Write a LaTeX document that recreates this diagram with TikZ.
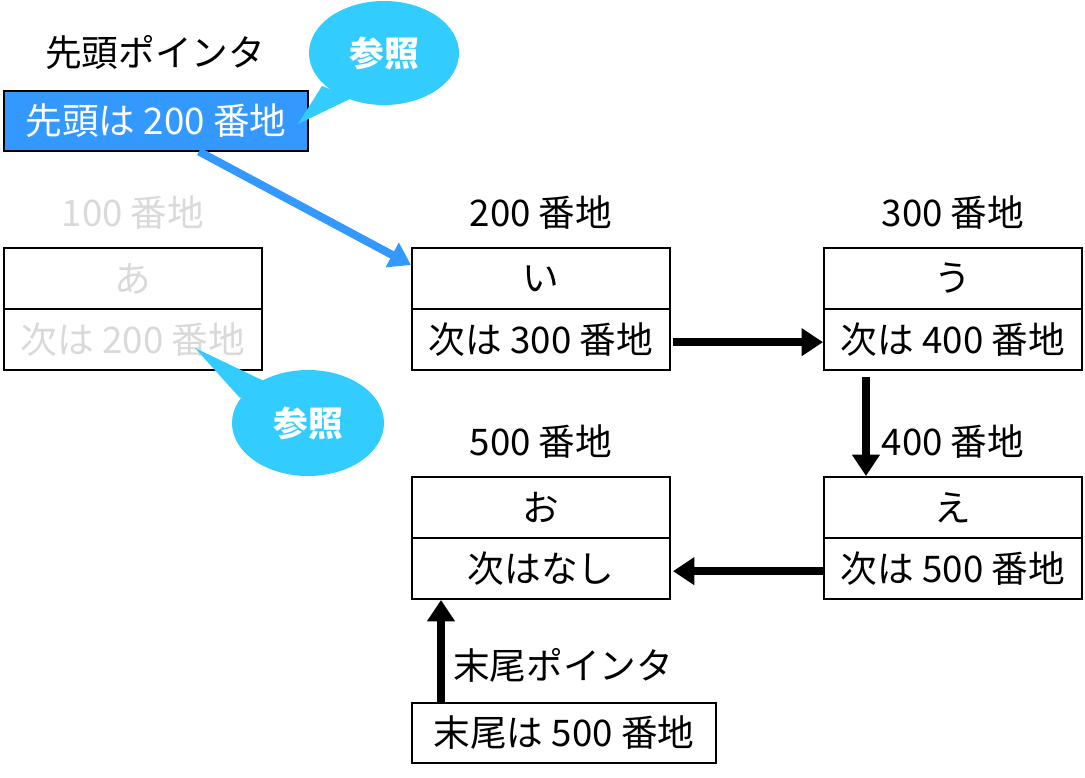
\documentclass[tikz,border=0pt]{standalone}
\usepackage{fontspec}
\setmainfont{Noto Sans CJK JP}
\usepackage{xcolor}
\usetikzlibrary{arrows.meta}

\definecolor{headblue}{RGB}{51,153,255}
\definecolor{callcyan}{RGB}{51,204,255}
\definecolor{faded}{RGB}{217,217,217}

\begin{document}
\begin{tikzpicture}[x=0.75pt,y=-0.75pt,
    font=\fontsize{27.5}{32}\selectfont,
    cell/.style={draw,line width=1.5pt,minimum width=193.5pt,minimum height=45.75pt,inner sep=0pt},
    ptrbox/.style={draw,line width=1.5pt,minimum width=228pt,minimum height=45pt,inner sep=0pt},
    link/.style={line width=6pt,-{Triangle[length=16pt,width=20pt]}},
    callout/.style={fill=callcyan}]
    \useasboundingbox (0,0) rectangle (1085,778);

    % head pointer
    \node (headlbl) at (155,52) {先頭ポインタ};
    \node[ptrbox,fill=headblue,text=white] (head) at (156,120.5) {先頭は 200 番地};
    \fill[callout] (384,53) ellipse [x radius=56.25pt, y radius=39pt];
    \fill[callout] (322,86) -- (298,124) -- (352,98) -- cycle;
    \node[text=white,font=\fontsize{26}{30}\selectfont\bfseries] (ref1) at (384,53) {参照};

    % removed node
    \node[text=faded] (a100) at (133,213) {100 番地};
    \node[cell,text=faded] (a1) at (133,278.5) {あ};
    \node[cell,text=faded] (a2) at (133,339.5) {次は 200 番地};
    \fill[callout] (308,423) ellipse [x radius=57pt, y radius=39.75pt];
    \fill[callout] (240,398) -- (195,348) -- (266,382) -- cycle;
    \node[text=white,font=\fontsize{26}{30}\selectfont\bfseries] (ref2) at (308,423) {参照};

    % list nodes
    \node (a200) at (541,213) {200 番地};
    \node[cell] (i1) at (541,278.5) {い};
    \node[cell] (i2) at (541,339.5) {次は 300 番地};
    \node (a300) at (953,213) {300 番地};
    \node[cell] (u1) at (953,278.5) {う};
    \node[cell] (u2) at (953,339.5) {次は 400 番地};
    \node (a400) at (953,442) {400 番地};
    \node[cell] (e1) at (953,507.5) {え};
    \node[cell] (e2) at (953,568.5) {次は 500 番地};
    \node (a500) at (541,442) {500 番地};
    \node[cell] (o1) at (541,507.5) {お};
    \node[cell] (o2) at (541,568.5) {次はなし};

    % tail pointer
    \node (taillbl) at (563,665) {末尾ポインタ};
    \node[ptrbox] (tail) at (564,732.5) {末尾は 500 番地};

    \draw[link,headblue] ([xshift=147pt]head.south west) -- ([yshift=-13.5pt]i1.north west);
    \draw[link] ([xshift=1.5pt,yshift=-2pt]i2.east) -- ([yshift=-2pt]u2.west);
    \draw[link] ([xshift=32.25pt,yshift=-4.5pt]u2.south west) -- ([xshift=32.25pt]e1.north west);
    \draw[link] ([yshift=-2pt]e2.west) -- ([xshift=1.5pt,yshift=-2pt]o2.east);
    \draw[link] ([xshift=22.5pt]tail.north west) -- ([xshift=22.5pt]o2.south west);
\end{tikzpicture}
\end{document}
